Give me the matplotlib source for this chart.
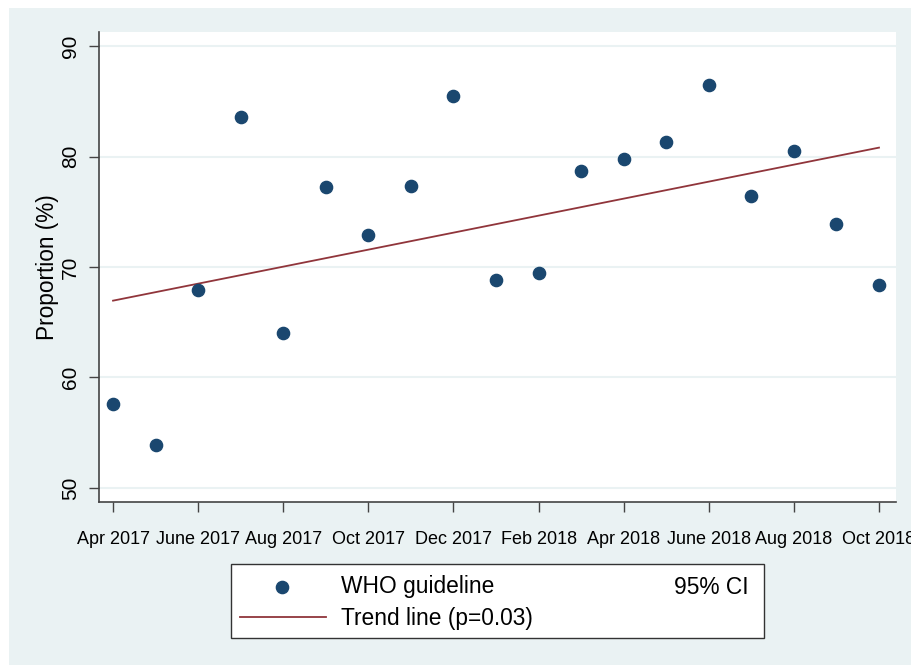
"""Monthly proportion meeting WHO guideline, with linear trend."""

import matplotlib
matplotlib.use("Agg")
import matplotlib.pyplot as plt
from matplotlib.lines import Line2D
from matplotlib.patches import Rectangle
import numpy as np

plt.rcParams['font.family'] = ['Liberation Sans', 'DejaVu Sans']

# Months from Apr 2017 to Oct 2018 (index 0..18)
months = ["Apr 2017", "May 2017", "June 2017", "July 2017", "Aug 2017", "Sep 2017",
          "Oct 2017", "Nov 2017", "Dec 2017", "Jan 2018", "Feb 2018", "Mar 2018",
          "Apr 2018", "May 2018", "June 2018", "July 2018", "Aug 2018", "Sep 2018",
          "Oct 2018"]
proportion = [57.6, 53.9, 67.9, 83.6, 64.0, 77.2, 72.9, 77.3, 85.5, 68.8,
              69.5, 78.7, 79.8, 81.3, 86.5, 76.4, 80.5, 73.9, 68.4]
tick_labels = ["Apr 2017", "June 2017", "Aug 2017", "Oct 2017", "Dec 2017",
               "Feb 2018", "Apr 2018", "June 2018", "Aug 2018", "Oct 2018"]
y_ticks = [50, 60, 70, 80, 90]

NAVY = "#1a476f"
MAROON = "#90353b"
BG = "#eaf2f3"

W, H = 912, 665
fig = plt.figure(figsize=(W / 100, H / 100), dpi=100, facecolor="white")

# light bluish graph region with thin white margin at top/left
fig.add_artist(Rectangle((9 / W, 0), 1, 1 - 8 / H, transform=fig.transFigure,
                         facecolor=BG, edgecolor="none", zorder=-10))

ax = fig.add_axes([99 / W, 1 - 502 / H, (896 - 99) / W, (502 - 32) / H])
ax.set_facecolor("white")

x = np.arange(len(months))
y = np.array(proportion)

# linear trend
slope, intercept = np.polyfit(x, y, 1)
ax.plot(x, intercept + slope * x, color=MAROON, lw=1.3, zorder=3)
ax.plot(x, y, "o", color=NAVY, ms=8.8, mec=NAVY, zorder=4)

ax.set_xlim(-0.33, 18.4)
ax.set_ylim(48.73, 91.27)

ax.set_yticks(y_ticks)
ax.yaxis.grid(True, color=BG, lw=1.5)
ax.set_axisbelow(True)
tick_pos = [months.index(t) for t in tick_labels]
ax.set_xticks(tick_pos)
ax.set_xticklabels(tick_labels, fontsize=13)
ax.set_yticklabels([str(v) for v in y_ticks], fontsize=15, rotation=90, va="center")

for side in ["top", "right"]:
    ax.spines[side].set_visible(False)
for side in ["left", "bottom"]:
    ax.spines[side].set_color("#444444")
    ax.spines[side].set_linewidth(1.2)
ax.tick_params(axis="both", direction="out", length=7, width=1.0, color="#444444")
ax.tick_params(axis="x", pad=14)
ax.tick_params(axis="y", pad=6.5)

ax.set_ylabel("Proportion (%)", fontsize=16.3, labelpad=1.5)

# legend box
lx0, ly0, lx1, ly1 = 231, 564, 764, 638
fig.add_artist(Rectangle((lx0 / W, 1 - ly1 / H), (lx1 - lx0) / W, (ly1 - ly0) / H,
                         transform=fig.transFigure, facecolor="white",
                         edgecolor="#333333", lw=1.0))
fig.add_artist(Line2D([282 / W], [1 - 587 / H], marker="o", color=NAVY, ms=8.8,
                      transform=fig.transFigure))
fig.add_artist(Line2D([240 / W, 326 / W], [1 - 617 / H, 1 - 617 / H], color=MAROON,
                      lw=1.3, transform=fig.transFigure))
fig.text(341 / W, 1 - 587 / H, "WHO guideline", fontsize=16.4, va="center")
fig.text(749 / W, 1 - 587 / H, "95% CI", fontsize=16.4, va="center", ha="right")
fig.text(341 / W, 1 - 618 / H, "Trend line (p=0.03)", fontsize=16.4, va="center")

fig.savefig("out.png", dpi=100, facecolor="white")
